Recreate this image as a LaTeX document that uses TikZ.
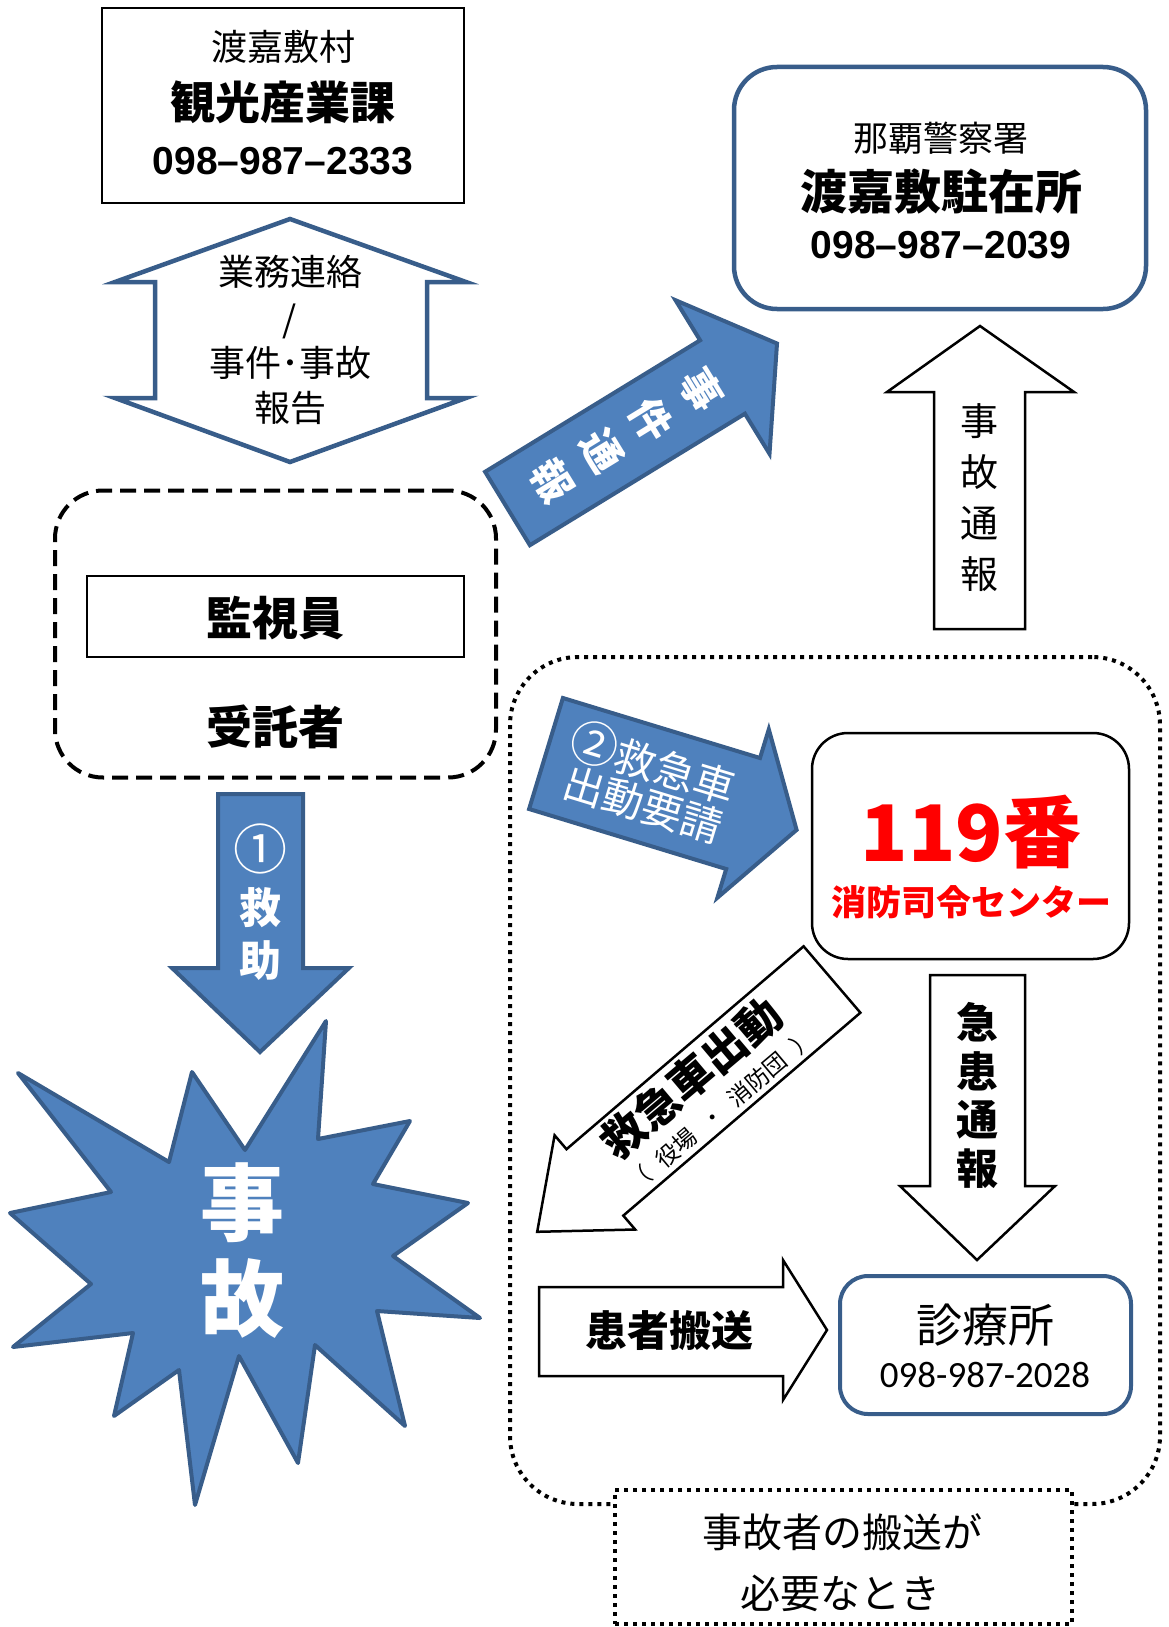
\documentclass[tikz,border=0pt]{standalone}
\usepackage{fontspec}
\setmainfont{Noto Sans CJK JP}
\newfontfamily\lsans{Liberation Sans}
\newfontfamily\carl{Carlito}
\definecolor{bfill}{HTML}{4F81BD}
\definecolor{bline}{HTML}{385D8A}
\newcommand\myfs[1]{\fontsize{#1}{#1}\selectfont}
\begin{document}
\begin{tikzpicture}[x=1pt,y=-1pt,
  txt/.style={inner sep=0pt, anchor=center},
  blueshape/.style={fill=bfill, draw=bline, line width=4pt, line join=miter},
  wshape/.style={fill=white, draw=black, line width=2.5pt, line join=miter},
  plainbox/.style={draw=black, line width=2pt, fill=white, inner sep=0pt},
  dotbox/.style={draw=black, line width=4pt, dash pattern=on 4pt off 5pt, inner sep=0pt},
  wtxt/.style={txt, text=white},
  rtxt/.style={txt, text=red}]
\useasboundingbox (0,0) rectangle (1169,1627);

% big dotted region
\node[dotbox, rounded corners=68, minimum width=650, minimum height=847] (need) at (835,1080.5) {};

% top box
\node[plainbox, minimum width=362, minimum height=195] (kanko) at (283,105.5) {};
\node[txt, font={\myfs{36}}] (kanko1) at (283,47) {渡嘉敷村};
\node[txt, font={\myfs{45}\bfseries}] (kanko2) at (283,102) {観光産業課};
\node[txt, font={\myfs{39}\bfseries\lsans}] (kanko3) at (283,161) {098–987–2333};

% double arrow
\draw[bline, fill=white, line width=4.5pt, line join=miter] (290,219) -- (466,282) -- (427,282) -- (427,398) -- (466,398) -- (290,462) -- (115,398) -- (155,398) -- (155,282) -- (115,282) -- cycle;
\node[txt, font={\myfs{36}}] (rl1) at (290,272) {業務連絡};
\node[txt, font={\myfs{36}}] (rl2) at (290,321) {/};
\node[txt, font={\myfs{36}}] (rl3) at (290,363) {事件･事故};
\node[txt, font={\myfs{36}}] (rl4) at (290,408) {報告};

% police box
\node[draw=bline, line width=4.5pt, rounded corners=43, minimum width=412, minimum height=242, fill=white, inner sep=0pt] (police) at (940,188) {};
\node[txt, font={\myfs{35}}] (police1) at (941,138) {那覇警察署};
\node[txt, font={\myfs{47}\bfseries}] (police2) at (941,191) {渡嘉敷駐在所};
\node[txt, font={\myfs{39}\bfseries\lsans}] (police3) at (941,245) {098–987–2039};

% up arrow 事故通報
\draw[wshape] (980,326) -- (1074,392) -- (1025,392) -- (1025,629) -- (934,629) -- (934,392) -- (887,392) -- cycle;
\foreach \c/\yy [count=\i] in {事/421,故/472,通/523,報/574}
  \node[txt, font={\myfs{38}}] (jt\i) at (979,\yy) {\c};

% blue arrow 事件通報
\draw[blueshape] (485.1,471.8) -- (700.1,340.3) -- (675.5,300.2) -- (777,343.5) -- (769.5,453.8) -- (744.9,413.7) -- (529.9,545.2) -- cycle;
\node[wtxt, rotate=-58.5, font={\myfs{41}\bfseries}] (jk1) at (701.1,390) {事};
\node[wtxt, rotate=-58.5, font={\myfs{41}\bfseries}] (jk2) at (651.7,420.3) {件};
\node[wtxt, rotate=-58.5, font={\myfs{41}\bfseries}] (jk3) at (602.2,450.6) {通};
\node[wtxt, rotate=-58.5, font={\myfs{41}\bfseries}] (jk4) at (552.7,480.8) {報};

% left dashed box
\node[draw=black, line width=4pt, dash pattern=on 16pt off 8pt, rounded corners=48, minimum width=441, minimum height=287, inner sep=0pt] (itaku) at (275.5,634) {};
\node[plainbox, minimum width=377, minimum height=81] (kanshi) at (275.5,616.5) {};
\node[txt, font={\myfs{46}\bfseries}] (kanshi1) at (275,618) {監視員};
\node[txt, font={\myfs{46}\bfseries}] (itaku1) at (275,727) {受託者};

% down arrow 救助
\draw[blueshape] (218,794) -- (303,794) -- (303,968) -- (349,968) -- (260,1052) -- (172,968) -- (218,968) -- cycle;
\node[wtxt, font={\myfs{54}}] (kj1) at (260,849) {①};
\node[wtxt, font={\myfs{42}\bfseries}] (kj2) at (260,908) {救};
\node[wtxt, font={\myfs{42}\bfseries}] (kj3) at (260,961) {助};

% starburst
\draw[blueshape, line join=round] (326,1021) -- (318,1139) -- (410,1121) -- (373,1184) -- (468,1203) -- (393,1256) -- (480,1318) -- (377,1311) -- (405,1426) -- (315,1345) -- (298,1463) -- (239,1356) -- (195,1505) -- (179,1370) -- (114,1416) -- (133,1333) -- (13,1347) -- (91,1284) -- (10,1213) -- (111,1192) -- (18,1073) -- (169,1162) -- (192,1072) -- (245,1150) -- cycle;
\node[wtxt, font={\myfs{84}\bfseries}] (jiko1) at (242,1203) {事};
\node[wtxt, font={\myfs{84}\bfseries}] (jiko2) at (242,1299) {故};

% blue arrow 2
\draw[blueshape] (562.9,698) -- (760,758) -- (768.8,729.3) -- (796.6,829.9) -- (717.4,897.7) -- (726.2,869) -- (529.1,809) -- cycle;
\node[wtxt, rotate=-17, font={\myfs{41}}] (yosei1) at (653.1,762.1) {{\myfs{48}②}救急車};
\node[wtxt, rotate=-17, font={\myfs{41}}] (yosei2) at (643.2,805.1) {出動要請};

% 119 box
\node[draw=black, line width=2.5pt, rounded corners=36, minimum width=317, minimum height=226, fill=white, inner sep=0pt] (fire) at (970.5,846) {};
\node[rtxt, font={\myfs{78}\bfseries}] (fire1) at (971,832) {119番};
\node[rtxt, font={\myfs{35}\bfseries}] (fire2) at (971,902) {消防司令センター};

% white arrow 救急車出動
\draw[wshape] (803.6,946.3) -- (566.5,1149.2) -- (554.6,1135.3) -- (537.2,1231.8) -- (635.2,1229.5) -- (623.3,1215.6) -- (860.4,1012.7) -- cycle;
\node[txt, rotate=40.2, font={\myfs{44}\bfseries}] (shutsu1) at (691,1078) {救急車出動};
\node[txt, rotate=40.2, font={\myfs{23}}] (shutsu2) at (721,1110) {（\hspace{13pt}役場\hspace{13pt}・\hspace{13pt}消防団\hspace{13pt}）};

% down arrow 急患通報
\draw[wshape] (930,975) -- (1025,975) -- (1025,1186) -- (1055,1186) -- (977,1260) -- (900,1186) -- (930,1186) -- cycle;
\foreach \c/\yy [count=\i] in {急/1022,患/1071,通/1120,報/1169}
  \node[txt, font={\myfs{42}\bfseries}] (kk\i) at (977,\yy) {\c};

% right arrow 患者搬送
\draw[wshape] (539,1287) -- (783,1287) -- (783,1260) -- (827,1330) -- (783,1400) -- (783,1376) -- (539,1376) -- cycle;
\node[txt, font={\myfs{42}\bfseries}] (hanso) at (669,1331) {患者搬送};

% clinic
\node[draw=bline, line width=4pt, rounded corners=28, minimum width=291, minimum height=138, fill=white, inner sep=0pt] (clinic) at (985.5,1345) {};
\node[txt, font={\myfs{46}}] (clinic1) at (985,1325) {診療所};
\node[txt, font={\myfs{37}\carl}] (clinic2) at (985,1375) {098-987-2028};

% condition box
\node[dotbox, fill=white, minimum width=457, minimum height=134] (cond) at (843.5,1557) {};
\node[txt, font={\myfs{40}}] (cond1) at (842,1532) {事故者の搬送が};
\node[txt, font={\myfs{40}}] (cond2) at (840,1593) {必要なとき};
\end{tikzpicture}
\end{document}
